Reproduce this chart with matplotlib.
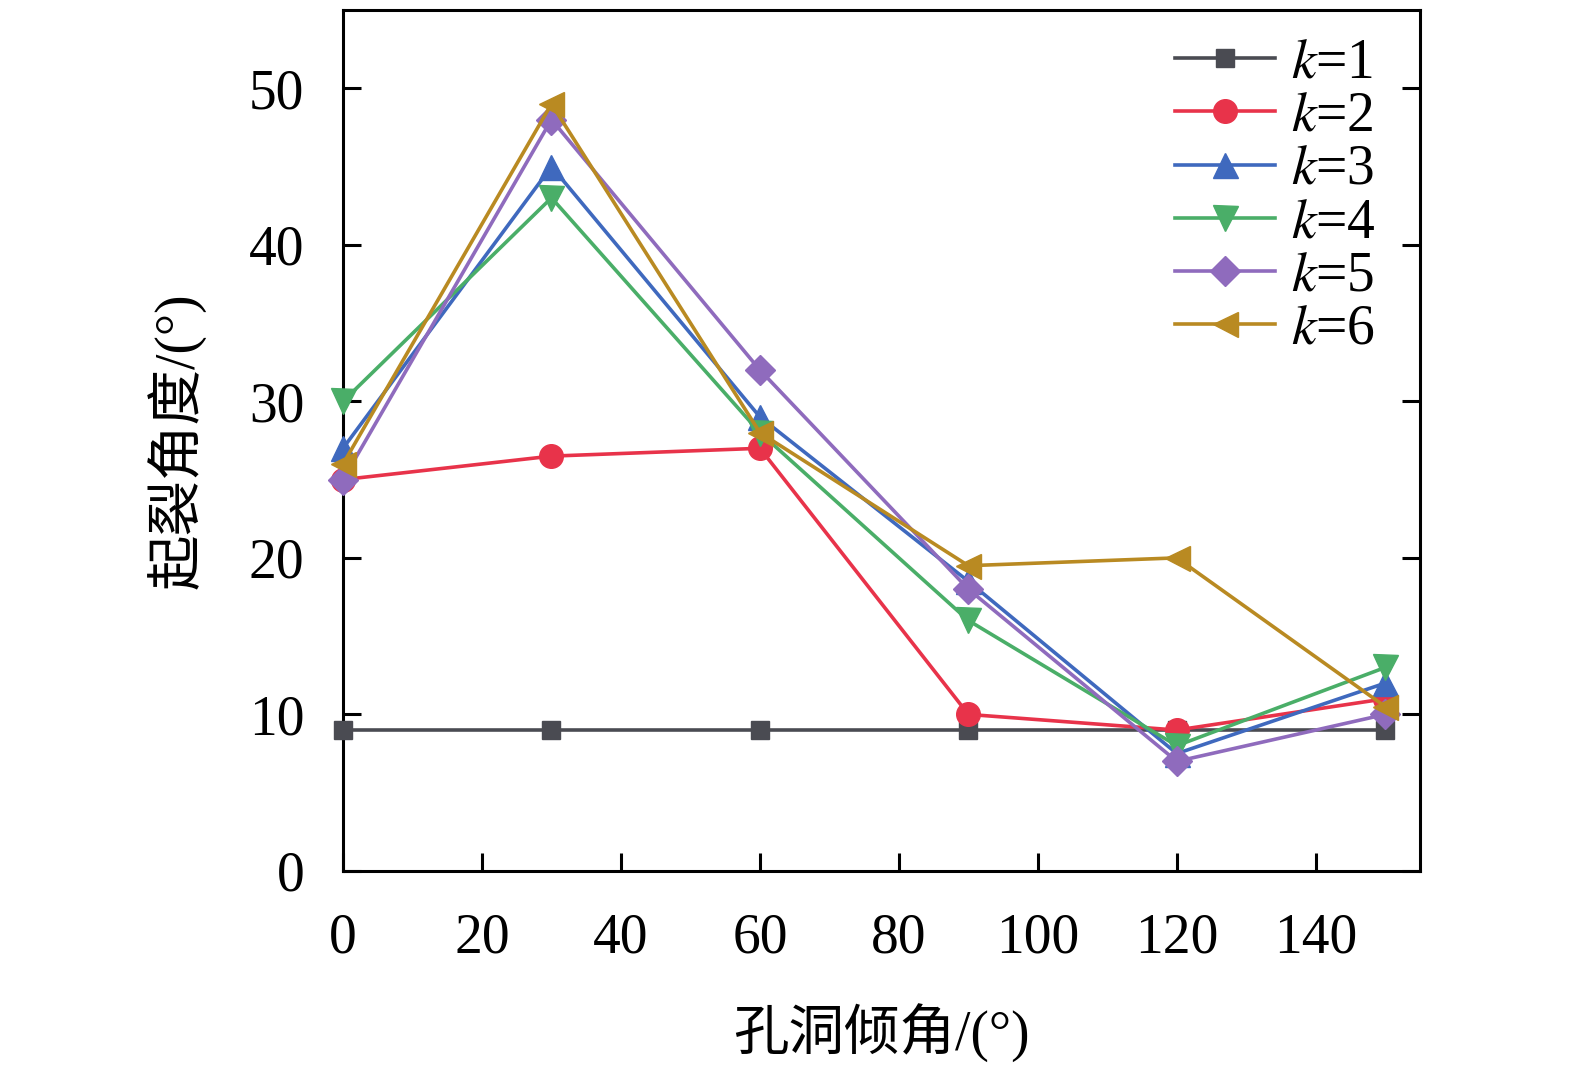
import matplotlib
matplotlib.use("Agg")
import matplotlib.pyplot as plt

angles = [0, 30, 60, 90, 120, 150]
k1 = [9, 9, 9, 9, 9, 9]
k2 = [25, 26.5, 27, 10, 9, 11]
k3 = [27, 45, 29, 18.5, 7.5, 12]
k4 = [30, 43, 28, 16, 8, 13]
k5 = [25, 48, 32, 18, 7, 10]
k6 = [26, 49, 28, 19.5, 20, 10.5]
series = [k1, k2, k3, k4, k5, k6]
labels = [r'$k$=1', r'$k$=2', r'$k$=3', r'$k$=4', r'$k$=5', r'$k$=6']
colors = ['#4a4b52', '#e8334a', '#3f69be', '#4aae68', '#8f6bbd', '#b98a22']
markers = ['s', 'o', '^', 'v', 'D', '<']
msizes = [13, 17, 18, 18, 15, 18]

plt.rcParams['font.family'] = ['Liberation Serif', 'Noto Sans CJK SC']
plt.rcParams['mathtext.fontset'] = 'stix'

fig = plt.figure(figsize=(15.75, 10.73), dpi=100)
ax = fig.add_axes([0.2178, 0.1883, 0.6838, 0.8024])

for y, lab, c, m, ms in zip(series, labels, colors, markers, msizes):
    ax.plot(angles, y, color=c, marker=m, markersize=ms, linewidth=2.6,
            label=lab, clip_on=False, zorder=3)

ax.set_xlim(0, 155)
ax.set_ylim(0, 55)
ax.set_xticks([0, 20, 40, 60, 80, 100, 120, 140])
ax.set_yticks([0, 10, 20, 30, 40, 50])
ax.tick_params(direction='in', length=13, width=2.2, labelsize=40, right=True,
               labelright=False, top=False)
ax.tick_params(axis='x', pad=30)
ax.tick_params(axis='y', pad=28)
for s in ax.spines.values():
    s.set_linewidth(2.2)

ax.set_xlabel('孔洞倾角/(°)', fontsize=40, labelpad=28)
ax.set_ylabel('起裂角度/(°)', fontsize=40, labelpad=30)

leg = ax.legend(loc='upper right', frameon=False, fontsize=40, handlelength=1.8,
                handletextpad=0.3, labelspacing=0.02, borderaxespad=0.1,
                bbox_to_anchor=(0.985, 1.0))

fig.savefig('out.png', dpi=100)
